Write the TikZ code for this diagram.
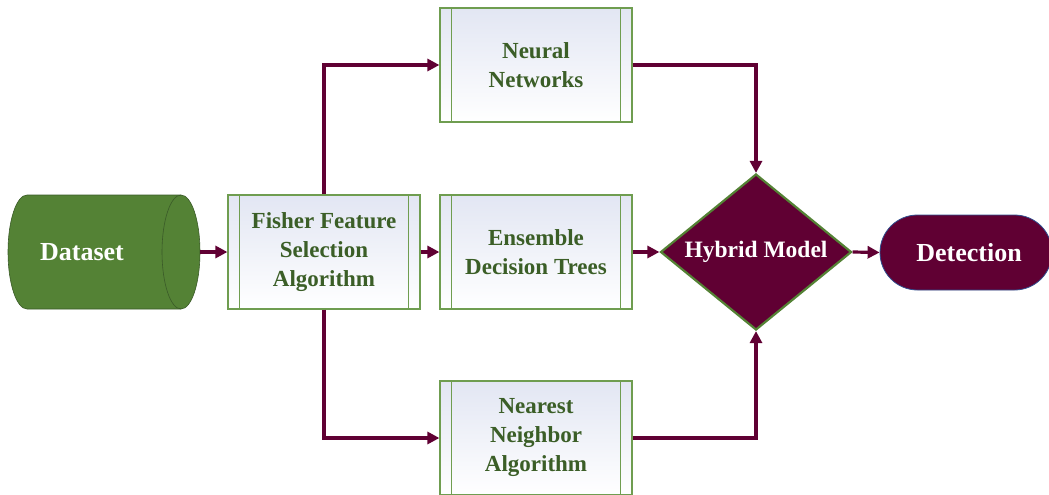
\documentclass[tikz,border=0pt]{standalone}
\usepackage{fontspec}
\setmainfont{Liberation Serif}
\usetikzlibrary{arrows.meta,shapes.geometric,shapes.misc}
\definecolor{maroonc}{HTML}{600033}
\definecolor{cylgreen}{HTML}{548235}
\definecolor{cyledge}{HTML}{3A5A28}
\definecolor{boxedge}{HTML}{6F9D50}
\definecolor{boxtext}{HTML}{3B5E27}
\definecolor{boxfill}{HTML}{E2E6F3}
\definecolor{detedge}{HTML}{2F4F8F}
\tikzset{
  procbox/.style={rectangle, minimum width=192pt, minimum height=114pt, inner sep=0pt,
    draw=boxedge, line width=1.2pt, shading=axis, shading angle=45, top color=boxfill, bottom color=white,
    text=boxtext, align=center, font=\bfseries\fontsize{23}{29}\selectfont},
  innerline/.style={draw=boxedge, line width=1.2pt},
  arr/.style={draw=maroonc, line width=3.2pt, -{Triangle[length=12pt,width=12pt]}},
  whitetext/.style={text=white, font=\bfseries\fontsize{26}{30}\selectfont}
}
\begin{document}
\begin{tikzpicture}[x=1pt,y=-1pt]
\useasboundingbox (0,0) rectangle (1049,495);
% dataset cylinder
\fill[cylgreen] (181,195) -- (27,195) arc[start angle=270,end angle=90,x radius=19,y radius=57]
  -- (181,309) arc[start angle=90,end angle=-90,x radius=19,y radius=57] -- cycle;
\draw[cyledge, line width=0.6pt] (181,195) -- (27,195) arc[start angle=270,end angle=90,x radius=19,y radius=57]
  -- (181,309);
\draw[cyledge, line width=0.6pt] (181,252) ellipse[x radius=19,y radius=57];
\node[rectangle, minimum width=192pt, minimum height=114pt, inner sep=0pt, whitetext] (dataset) at (104,252) {\hspace*{-44pt}Dataset};
% process boxes
\node[procbox] (fisher) at (324,252) {Fisher Feature\\Selection\\Algorithm};
\node[procbox] (nn) at (536,65) {Neural\\Networks};
\node[procbox] (ens) at (536,252) {Ensemble\\Decision Trees};
\node[procbox] (near) at (536,438) {Nearest\\Neighbor\\Algorithm};
\foreach \b in {fisher,nn,ens,near}{
  \draw[innerline] ([xshift=12pt]\b.north west) -- ([xshift=12pt]\b.south west);
  \draw[innerline] ([xshift=-12pt]\b.north east) -- ([xshift=-12pt]\b.south east);
}
% hybrid diamond
\node[diamond, minimum width=191pt, minimum height=156pt, inner sep=0pt, aspect=1.22,
  fill=maroonc, draw=cylgreen, line width=2.2pt,
  label={[text=white, font=\bfseries\fontsize{23.5}{26}\selectfont]center:Hybrid Model}] (hyb) at (756,252) {};
% detection
\node[rounded rectangle, minimum width=172pt, minimum height=75pt, inner sep=0pt,
  fill=maroonc, draw=detedge, line width=0.8pt, whitetext] (det) at (966,252.5) {\hspace*{6pt}Detection};
% connectors
\draw[arr] (dataset.east) -- (fisher.west);
\draw[arr] (fisher.north) |- (nn.west);
\draw[arr] (fisher.south) |- (near.west);
\draw[arr] (fisher.east) -- (ens.west);
\draw[arr] (ens.east) -- (hyb.west);
\draw[arr] (nn.east) -| (hyb.north);
\draw[arr] (near.east) -| (hyb.south);
\draw[arr] (hyb.east) -- (det.west);
\end{tikzpicture}
\end{document}
